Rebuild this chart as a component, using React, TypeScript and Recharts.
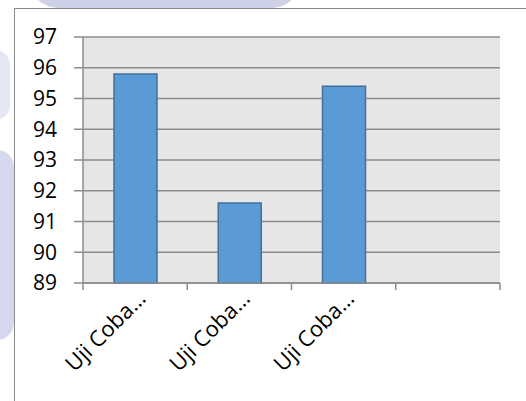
import { BarChart, Bar, XAxis, YAxis, CartesianGrid } from "recharts";

const categories = ["Uji Coba…", "Uji Coba…", "Uji Coba…", ""];
const scores = [95.8, 91.6, 95.4, null];
const yTicks = [89, 90, 91, 92, 93, 94, 95, 96, 97];

const data = categories.map((name, i) => ({ name, score: scores[i] }));

const FONT = "'Open Sans', 'Noto Sans', sans-serif";
const AXIS_GRAY = "#8c8c8c";

// Excel-style category axis: tick marks sit on the band edges, labels rotated 45°
function CategoryTick(props: any) {
  const { x, y, payload, index, visibleTicksCount } = props;
  const half = payload.offset || 0;
  const axisY = y - 8;
  const isLast = index === visibleTicksCount - 1;
  return (
    <g>
      <line x1={x - half} x2={x - half} y1={axisY} y2={axisY + 7} stroke={AXIS_GRAY} strokeWidth={1.5} />
      {isLast && (
        <line x1={x + half} x2={x + half} y1={axisY} y2={axisY + 7} stroke={AXIS_GRAY} strokeWidth={1.5} />
      )}
      <g transform={`translate(${x + 12},${y + 9})`}>
        <text x={0} y={0} textAnchor="end" transform="rotate(-45)" fill="#000" fontSize={22} fontFamily={FONT}>
          {payload.value}
        </text>
      </g>
    </g>
  );
}

export default function App() {
  return (
    <div style={{ position: "absolute", left: 0, top: 0, width: 526, height: 401, background: "#fff", overflow: "hidden" }}>
      {/* faint page watermark outside the chart frame */}
      <div style={{ position: "absolute", left: 30, top: -20, width: 270, height: 28, background: "#cdd1e8", borderRadius: "0 0 60px 60px" }} />
      <div style={{ position: "absolute", left: -20, top: 150, width: 34, height: 190, background: "#d6d9ed", borderRadius: 20 }} />
      <div style={{ position: "absolute", left: -20, top: 50, width: 30, height: 70, background: "#e4e6f3", borderRadius: 20 }} />
      <div
        style={{
          position: "absolute",
          left: 14,
          top: 8,
          width: 600,
          height: 500,
          background: "#fff",
          borderLeft: "1px solid #8a8a8a",
          borderTop: "1px solid #8a8a8a",
        }}
      />
      <div style={{ position: "absolute", left: 0, top: 0 }}>
        <BarChart
          width={526}
          height={401}
          data={data}
          margin={{ top: 37, right: 26, left: 0, bottom: 0 }}
        >
          <CartesianGrid vertical={false} fill="#e6e6e6" stroke={AXIS_GRAY} strokeWidth={1.5} />
          <XAxis
            dataKey="name"
            height={118}
            interval={0}
            axisLine={{ stroke: AXIS_GRAY, strokeWidth: 1.5 }}
            tickLine={false}
            tick={<CategoryTick />}
          />
          <YAxis
            domain={[89, 97]}
            ticks={yTicks}
            width={83}
            tickSize={9}
            tickMargin={17}
            axisLine={{ stroke: AXIS_GRAY, strokeWidth: 1.5 }}
            tickLine={{ stroke: AXIS_GRAY, strokeWidth: 1.5 }}
            tick={{ fill: "#000", fontSize: 21, fontFamily: FONT }}
          />
          <Bar
            dataKey="score"
            barSize={43}
            fill="#5b9bd5"
            stroke="#41719c"
            strokeWidth={1.5}
            isAnimationActive={false}
          />
        </BarChart>
      </div>
    </div>
  );
}
